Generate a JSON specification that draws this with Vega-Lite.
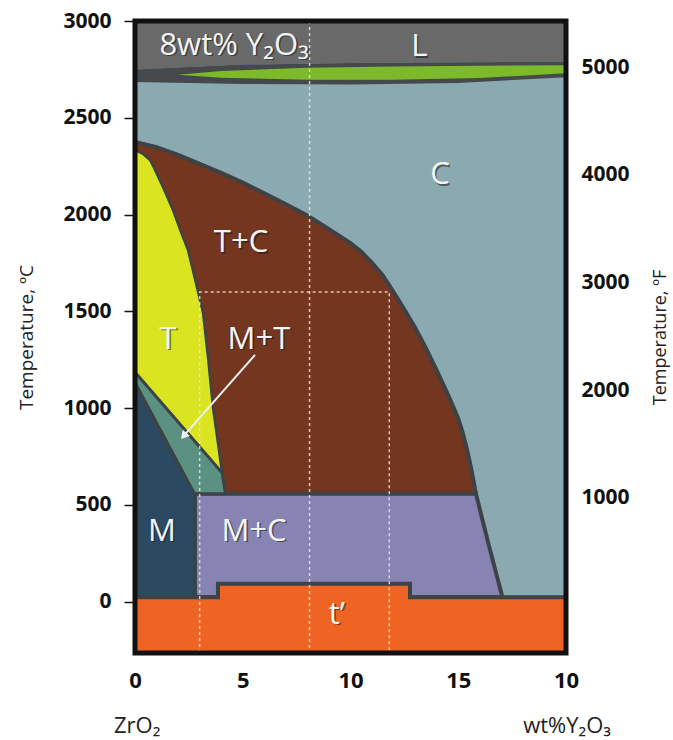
{
  "$schema": "https://vega.github.io/schema/vega-lite/v6.json",
  "width": 431,
  "height": 632,
  "autosize": {"type": "none"},
  "padding": {"left": 135, "top": 21, "right": 107, "bottom": 87},
  "config": {"view": {"stroke": null}, "font": "Open Sans"},
  "datasets": {
    "poly": [
      {"r": "C", "i": 0, "x": 0, "y": -265}, {"r": "C", "i": 1, "x": 20, "y": -265}, {"r": "C", "i": 2, "x": 20, "y": 3000}, {"r": "C", "i": 3, "x": 0, "y": 3000},
      {"r": "L", "i": 0, "x": 0, "y": 3000}, {"r": "L", "i": 1, "x": 20, "y": 3000}, {"r": "L", "i": 2, "x": 20, "y": 2790}, {"r": "L", "i": 3, "x": 10, "y": 2783}, {"r": "L", "i": 4, "x": 5, "y": 2775}, {"r": "L", "i": 5, "x": 0, "y": 2750},
      {"r": "band", "i": 0, "x": 0, "y": 2750}, {"r": "band", "i": 1, "x": 5, "y": 2775}, {"r": "band", "i": 2, "x": 10, "y": 2783}, {"r": "band", "i": 3, "x": 20, "y": 2790}, {"r": "band", "i": 4, "x": 20, "y": 2710}, {"r": "band", "i": 5, "x": 15, "y": 2680}, {"r": "band", "i": 6, "x": 10, "y": 2672}, {"r": "band", "i": 7, "x": 5, "y": 2675}, {"r": "band", "i": 8, "x": 0, "y": 2685},
      {"r": "LC", "i": 0, "x": 2.0, "y": 2722}, {"r": "LC", "i": 1, "x": 4, "y": 2742}, {"r": "LC", "i": 2, "x": 8, "y": 2758}, {"r": "LC", "i": 3, "x": 12, "y": 2765}, {"r": "LC", "i": 4, "x": 16, "y": 2769}, {"r": "LC", "i": 5, "x": 20, "y": 2772}, {"r": "LC", "i": 6, "x": 20, "y": 2730}, {"r": "LC", "i": 7, "x": 16, "y": 2706}, {"r": "LC", "i": 8, "x": 12, "y": 2697}, {"r": "LC", "i": 9, "x": 8, "y": 2697}, {"r": "LC", "i": 10, "x": 4, "y": 2707}, {"r": "LC", "i": 11, "x": 2.0, "y": 2722},
      {"r": "TC", "i": 0, "x": 0, "y": 2375}, {"r": "TC", "i": 1, "x": 1, "y": 2348}, {"r": "TC", "i": 2, "x": 2, "y": 2308}, {"r": "TC", "i": 3, "x": 3, "y": 2262}, {"r": "TC", "i": 4, "x": 4, "y": 2215}, {"r": "TC", "i": 5, "x": 5, "y": 2165}, {"r": "TC", "i": 6, "x": 6, "y": 2110}, {"r": "TC", "i": 7, "x": 7, "y": 2053}, {"r": "TC", "i": 8, "x": 8, "y": 1995}, {"r": "TC", "i": 9, "x": 9, "y": 1925}, {"r": "TC", "i": 10, "x": 10, "y": 1852}, {"r": "TC", "i": 11, "x": 10.5, "y": 1808}, {"r": "TC", "i": 12, "x": 11, "y": 1750}, {"r": "TC", "i": 13, "x": 11.5, "y": 1685}, {"r": "TC", "i": 14, "x": 12, "y": 1600}, {"r": "TC", "i": 15, "x": 12.5, "y": 1510}, {"r": "TC", "i": 16, "x": 13, "y": 1415}, {"r": "TC", "i": 17, "x": 13.5, "y": 1310}, {"r": "TC", "i": 18, "x": 14, "y": 1195}, {"r": "TC", "i": 19, "x": 14.5, "y": 1075}, {"r": "TC", "i": 20, "x": 14.75, "y": 1012}, {"r": "TC", "i": 21, "x": 15, "y": 945}, {"r": "TC", "i": 22, "x": 15.2, "y": 875}, {"r": "TC", "i": 23, "x": 15.4, "y": 790}, {"r": "TC", "i": 24, "x": 15.55, "y": 715}, {"r": "TC", "i": 25, "x": 15.7, "y": 630}, {"r": "TC", "i": 26, "x": 15.82, "y": 558}, {"r": "TC", "i": 27, "x": 0, "y": 558}, {"r": "TC", "i": 28, "x": 0, "y": 2375},
      {"r": "MC", "i": 0, "x": 2.78, "y": 558}, {"r": "MC", "i": 1, "x": 15.82, "y": 558}, {"r": "MC", "i": 2, "x": 16.4, "y": 300}, {"r": "MC", "i": 3, "x": 17.05, "y": 23}, {"r": "MC", "i": 4, "x": 2.78, "y": 23}, {"r": "MC", "i": 5, "x": 2.78, "y": 558},
      {"r": "T", "i": 0, "x": 0, "y": 2334}, {"r": "T", "i": 1, "x": 0.35, "y": 2315}, {"r": "T", "i": 2, "x": 0.7, "y": 2282}, {"r": "T", "i": 3, "x": 0.93, "y": 2230}, {"r": "T", "i": 4, "x": 1.35, "y": 2130}, {"r": "T", "i": 5, "x": 1.76, "y": 2024}, {"r": "T", "i": 6, "x": 2.1, "y": 1920}, {"r": "T", "i": 7, "x": 2.46, "y": 1817}, {"r": "T", "i": 8, "x": 2.8, "y": 1660}, {"r": "T", "i": 9, "x": 3.16, "y": 1492}, {"r": "T", "i": 10, "x": 3.4, "y": 1250}, {"r": "T", "i": 11, "x": 3.62, "y": 1002}, {"r": "T", "i": 12, "x": 3.85, "y": 820}, {"r": "T", "i": 13, "x": 4.04, "y": 666}, {"r": "T", "i": 14, "x": 0, "y": 1185}, {"r": "T", "i": 15, "x": 0, "y": 2334},
      {"r": "MT", "i": 0, "x": 0, "y": 1185}, {"r": "MT", "i": 1, "x": 4.04, "y": 666}, {"r": "MT", "i": 2, "x": 4.2, "y": 558}, {"r": "MT", "i": 3, "x": 2.78, "y": 558}, {"r": "MT", "i": 4, "x": 2.65, "y": 578}, {"r": "MT", "i": 5, "x": 0, "y": 1130}, {"r": "MT", "i": 6, "x": 0, "y": 1185},
      {"r": "M", "i": 0, "x": 0, "y": 1130}, {"r": "M", "i": 1, "x": 2.65, "y": 578}, {"r": "M", "i": 2, "x": 2.78, "y": 558}, {"r": "M", "i": 3, "x": 2.78, "y": 23}, {"r": "M", "i": 4, "x": 0, "y": 23}, {"r": "M", "i": 5, "x": 0, "y": 1130},
      {"r": "tp", "i": 0, "x": 0, "y": 23}, {"r": "tp", "i": 1, "x": 3.85, "y": 23}, {"r": "tp", "i": 2, "x": 3.85, "y": 93}, {"r": "tp", "i": 3, "x": 12.76, "y": 93}, {"r": "tp", "i": 4, "x": 12.76, "y": 23}, {"r": "tp", "i": 5, "x": 20, "y": 23}, {"r": "tp", "i": 6, "x": 20, "y": -265}, {"r": "tp", "i": 7, "x": 0, "y": -265}, {"r": "tp", "i": 8, "x": 0, "y": 23}
    ],
    "dots": [
      {"g": "v8", "i": 0, "x": 8.1, "y": 3000}, {"g": "v8", "i": 1, "x": 8.1, "y": -265},
      {"g": "box", "i": 0, "x": 3, "y": -265}, {"g": "box", "i": 1, "x": 3, "y": 1600}, {"g": "box", "i": 2, "x": 11.8, "y": 1600}, {"g": "box", "i": 3, "x": 11.8, "y": -265}
    ],
    "arrow": [
      {"i": 0, "x": 5.57, "y": 1275}, {"i": 1, "x": 2.35, "y": 868}
    ],
    "head": [
      {"x": 2.3, "y": 862}
    ],
    "frame": [
      {"x": 0, "x2": 20, "y": -265, "y2": 3000}
    ],
    "labels": [
      {"t": "8wt% Y₂O₃", "x": 4.6, "y": 2872},
      {"t": "L", "x": 13.2, "y": 2865},
      {"t": "C", "x": 14.15, "y": 2204},
      {"t": "T+C", "x": 4.92, "y": 1853},
      {"t": "T", "x": 1.53, "y": 1353},
      {"t": "M+T", "x": 5.75, "y": 1353},
      {"t": "M", "x": 1.25, "y": 361},
      {"t": "M+C", "x": 5.52, "y": 361},
      {"t": "t’", "x": 9.37, "y": -67}
    ],
    "bottom": [
      {"t": "ZrO₂", "x": 0.1, "y": -640},
      {"t": "wt%Y₂O₃", "x": 20.05, "y": -640}
    ],
    "fticks": [
      {"F": 5000}
    ]
  },
  "layer": [
    {
      "encoding": {
        "x": {"field": "x", "type": "quantitative", "scale": {"domain": [0, 20], "nice": false},
          "axis": {"values": [0, 5, 10, 15, 20], "format": "d", "labelExpr": "datum.value == 20 ? '10' : datum.label", "ticks": false, "domain": false, "grid": false, "title": null, "labelFontSize": 22, "labelFontWeight": "bold", "labelColor": "#111111", "labelPadding": 17, "labelFlush": false, "labelOverlap": false}},
        "y": {"field": "y", "type": "quantitative", "scale": {"domain": [-265, 3000], "nice": false, "zero": false},
          "axis": {"values": [0, 500, 1000, 1500, 2000, 2500, 3000], "format": "d", "tickSize": 11, "tickWidth": 1.5, "tickColor": "#111111", "domain": false, "grid": false, "labelFontSize": 21, "labelFontWeight": "bold", "labelColor": "#111111", "labelPadding": 13, "labelFlush": false, "labelOverlap": false, "title": "Temperature, ºC", "titleFontSize": 19, "titleFontWeight": "normal", "titleColor": "#222222", "titlePadding": 26}}
      },
      "layer": [
        {"data": {"name": "poly"}, "transform": [{"filter": "datum.r == 'C'"}], "mark": {"type": "line", "fill": "#8ba9b1", "stroke": "#8ba9b1", "strokeWidth": 0}, "encoding": {"order": {"field": "i"}}},
        {"data": {"name": "poly"}, "transform": [{"filter": "datum.r == 'L'"}], "mark": {"type": "line", "fill": "#696969", "strokeWidth": 0}, "encoding": {"order": {"field": "i"}}},
        {"data": {"name": "poly"}, "transform": [{"filter": "datum.r == 'band'"}], "mark": {"type": "line", "fill": "#46494b", "strokeWidth": 0}, "encoding": {"order": {"field": "i"}}},
        {"data": {"name": "poly"}, "transform": [{"filter": "datum.r == 'LC'"}], "mark": {"type": "line", "fill": "#7cba2b", "strokeWidth": 0}, "encoding": {"order": {"field": "i"}}},
        {"data": {"name": "poly"}, "transform": [{"filter": "datum.r == 'TC'"}], "mark": {"type": "line", "fill": "#74361f", "stroke": "#3d4246", "strokeWidth": 4}, "encoding": {"order": {"field": "i"}}},
        {"data": {"name": "poly"}, "transform": [{"filter": "datum.r == 'MC'"}], "mark": {"type": "line", "fill": "#8784b3", "stroke": "#3d4246", "strokeWidth": 4}, "encoding": {"order": {"field": "i"}}},
        {"data": {"name": "poly"}, "transform": [{"filter": "datum.r == 'T'"}], "mark": {"type": "line", "fill": "#dbe420", "stroke": "#3d4246", "strokeWidth": 2.5}, "encoding": {"order": {"field": "i"}}},
        {"data": {"name": "poly"}, "transform": [{"filter": "datum.r == 'MT'"}], "mark": {"type": "line", "fill": "#5a9180", "stroke": "#3d4246", "strokeWidth": 3}, "encoding": {"order": {"field": "i"}}},
        {"data": {"name": "poly"}, "transform": [{"filter": "datum.r == 'M'"}], "mark": {"type": "line", "fill": "#2b4a62", "stroke": "#3d4246", "strokeWidth": 3}, "encoding": {"order": {"field": "i"}}},
        {"data": {"name": "poly"}, "transform": [{"filter": "datum.r == 'tp'"}], "mark": {"type": "line", "fill": "#ef6422", "stroke": "#3d4246", "strokeWidth": 4}, "encoding": {"order": {"field": "i"}}},
        {"data": {"name": "dots"}, "mark": {"type": "line", "stroke": "#ece3da", "strokeWidth": 1.5, "strokeDash": [3, 3], "opacity": 0.85}, "encoding": {"order": {"field": "i"}, "detail": {"field": "g"}}},
        {"data": {"name": "arrow"}, "mark": {"type": "line", "stroke": "#f2f2f2", "strokeWidth": 2}, "encoding": {"order": {"field": "i"}}},
        {"data": {"name": "head"}, "mark": {"type": "point", "shape": "triangle", "filled": true, "fill": "#f2f2f2", "size": 90, "angle": 221, "opacity": 1}},
        {"data": {"name": "frame"}, "mark": {"type": "rect", "fill": null, "fillOpacity": 0, "stroke": "#111111", "strokeWidth": 5}, "encoding": {"x2": {"field": "x2"}, "y2": {"field": "y2"}}},
        {"data": {"name": "labels"}, "mark": {"type": "text", "fontSize": 31, "fill": "#1a1a1a", "opacity": 0.55, "dx": 1.5, "dy": 1.5, "align": "center", "baseline": "middle"}, "encoding": {"text": {"field": "t"}}},
        {"data": {"name": "labels"}, "mark": {"type": "text", "fontSize": 31, "fill": "#f4f4f4", "align": "center", "baseline": "middle"}, "encoding": {"text": {"field": "t"}}},
        {"data": {"name": "bottom"}, "mark": {"type": "text", "fontSize": 22, "fill": "#222222", "align": "center", "baseline": "middle"}, "encoding": {"text": {"field": "t"}}}
      ]
    },
    {
      "data": {"name": "fticks"},
      "mark": {"type": "point", "opacity": 0},
      "encoding": {
        "y": {"field": "F", "type": "quantitative", "scale": {"domain": [-445, 5432], "nice": false, "zero": false},
          "axis": {"orient": "right", "values": [1000, 2000, 3000, 4000, 5000], "format": "d", "ticks": false, "domain": false, "grid": false, "labelFontSize": 21, "labelFontWeight": "bold", "labelColor": "#111111", "labelPadding": 15, "labelFlush": false, "labelOverlap": false, "title": "Temperature, ºF", "titleAngle": 270, "titleFontSize": 18, "titleFontWeight": "normal", "titleColor": "#222222", "titlePadding": 40}}
      }
    }
  ],
  "resolve": {"scale": {"y": "independent"}}
}
